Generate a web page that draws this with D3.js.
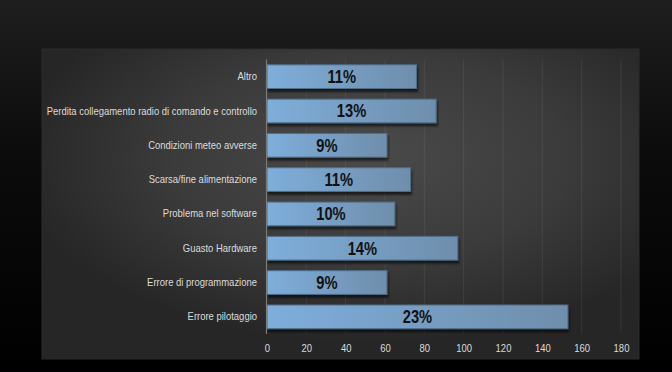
<!DOCTYPE html>
<html>
<head>
<meta charset="utf-8">
<script src="https://cdn.jsdelivr.net/npm/d3@7"></script>
<style>
  html, body { margin: 0; padding: 0; background: #000; }
  .chart text { font-family: "Liberation Sans", Arial, sans-serif; }
</style>
</head>
<body>
<div class="chart"></div>
<script>
// causes of incidents, top to bottom
const categories = [
  "Altro",
  "Perdita collegamento radio di comando e controllo",
  "Condizioni meteo avverse",
  "Scarsa/fine alimentazione",
  "Problema nel software",
  "Guasto Hardware",
  "Errore di programmazione",
  "Errore pilotaggio"
];
const values = [76, 86, 61, 73, 65, 97, 61, 153];
const percentLabels = ["11%", "13%", "9%", "11%", "10%", "14%", "9%", "23%"];
const xTicks = [0, 20, 40, 60, 80, 100, 120, 140, 160, 180];

const W = 672, H = 372;

const svg = d3.select(".chart").append("svg")
    .attr("width", W)
    .attr("height", H);

const defs = svg.append("defs");

// page background
const pageGrad = defs.append("linearGradient")
    .attr("id", "pageGrad").attr("x1", 0).attr("y1", 0).attr("x2", 0).attr("y2", 1);
pageGrad.append("stop").attr("offset", "0%").attr("stop-color", "#1e1e1e");
pageGrad.append("stop").attr("offset", "40%").attr("stop-color", "#0c0c0c");
pageGrad.append("stop").attr("offset", "100%").attr("stop-color", "#000");

// panel background
const panelGrad = defs.append("radialGradient")
    .attr("id", "panelGrad").attr("cx", "55%").attr("cy", "35%").attr("r", "60%");
panelGrad.append("stop").attr("offset", "0%").attr("stop-color", "#4a4a4a");
panelGrad.append("stop").attr("offset", "55%").attr("stop-color", "#3b3b3b");
panelGrad.append("stop").attr("offset", "100%").attr("stop-color", "#262626");

// bar fill
const barGrad = defs.append("linearGradient")
    .attr("id", "barGrad").attr("x1", 0).attr("y1", 0).attr("x2", 1).attr("y2", 0);
barGrad.append("stop").attr("offset", "0%").attr("stop-color", "#7eaedb");
barGrad.append("stop").attr("offset", "100%").attr("stop-color", "#6f8eab");

const shadow = defs.append("filter").attr("id", "shadow")
    .attr("x", "-5%").attr("y", "-20%").attr("width", "115%").attr("height", "160%");
shadow.append("feDropShadow")
    .attr("dx", 1).attr("dy", 3).attr("stdDeviation", 1.2)
    .attr("flood-color", "#000").attr("flood-opacity", 0.6);

svg.append("rect").attr("width", W).attr("height", H).attr("fill", "url(#pageGrad)");

// squeeze text horizontally (the original uses a condensed face)
function condense(sel, factor) {
    sel.each(function() {
        const w = this.getComputedTextLength();
        d3.select(this)
            .attr("textLength", w * factor)
            .attr("lengthAdjust", "spacingAndGlyphs");
    });
}

// === Panel ===
const panel = {x: 42, y: 49, w: 597, h: 310};
svg.append("rect")
    .attr("x", panel.x).attr("y", panel.y)
    .attr("width", panel.w).attr("height", panel.h)
    .attr("fill", "url(#panelGrad)")
    .attr("stroke", "#2c2c2c")
    .attr("stroke-width", 1);

// === Scales ===
const plot = {left: 267, right: 621, top: 59.5, bottom: 334};

const xScale = d3.scaleLinear()
    .domain([0, 180])
    .range([plot.left, plot.right]);

const yScale = d3.scaleBand()
    .domain(categories)
    .range([plot.top, plot.bottom])
    .paddingInner(0.31)
    .paddingOuter(0.155);

// grid lines
svg.append("g").selectAll("line")
    .data(xTicks.slice(1))
    .enter()
    .append("line")
    .attr("x1", d => xScale(d)).attr("x2", d => xScale(d))
    .attr("y1", plot.top).attr("y2", plot.bottom)
    .attr("stroke", "#fff")
    .attr("stroke-opacity", 0.07)
    .attr("stroke-width", 1);

// x axis tick labels
const xAxis = d3.axisBottom(xScale)
    .tickValues(xTicks)
    .tickSize(0)
    .tickPadding(9);

const gx = svg.append("g")
    .attr("transform", `translate(0, ${plot.bottom + 1})`)
    .call(xAxis);
gx.select(".domain").remove();
gx.selectAll("text")
    .attr("fill", "#dcdcdc")
    .attr("font-size", "11px")
    .call(condense, 0.86);

// y axis category labels
const yAxis = d3.axisLeft(yScale)
    .tickSize(0)
    .tickPadding(10);

const gy = svg.append("g")
    .attr("transform", `translate(${plot.left}, 0)`)
    .call(yAxis);
gy.select(".domain").remove();
gy.selectAll("text")
    .attr("fill", "#dcdcdc")
    .attr("font-size", "11px")
    .call(condense, 0.86);

// === Bars ===
svg.append("g").selectAll(".bar")
    .data(values)
    .enter()
    .append("rect")
    .attr("class", "bar")
    .attr("x", xScale(0))
    .attr("y", (d, i) => yScale(categories[i]))
    .attr("width", d => xScale(d) - xScale(0))
    .attr("height", yScale.bandwidth())
    .attr("fill", "url(#barGrad)")
    .attr("stroke", "#4e6e8c")
    .attr("stroke-width", 1)
    .attr("filter", "url(#shadow)");

// vertical axis line
svg.append("line")
    .attr("x1", plot.left - 0.5).attr("x2", plot.left - 0.5)
    .attr("y1", plot.top).attr("y2", plot.bottom)
    .attr("stroke", "#7a7a7a")
    .attr("stroke-width", 1.2);

// percentage labels
svg.append("g").selectAll(".pct")
    .data(values)
    .enter()
    .append("text")
    .attr("class", "pct")
    .attr("x", d => (xScale(0) + xScale(d)) / 2)
    .attr("y", (d, i) => yScale(categories[i]) + yScale.bandwidth() / 2)
    .attr("dy", "0.36em")
    .attr("text-anchor", "middle")
    .attr("font-size", "17.5px")
    .attr("font-weight", "bold")
    .attr("fill", "#111")
    .text((d, i) => percentLabels[i])
    .call(condense, 0.84);
</script>
</body>
</html>
